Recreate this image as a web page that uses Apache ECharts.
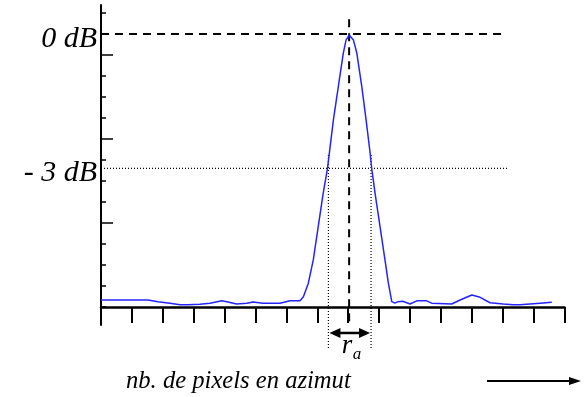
<!DOCTYPE html>
<html>
<head>
<meta charset="utf-8">
<script src="https://cdn.jsdelivr.net/npm/echarts@6/dist/echarts.min.js"></script>
<style>html,body{margin:0;padding:0;background:#fff;}#c{width:584px;height:397px;}</style>
</head>
<body>
<div id="c"></div>
<script>
// x in pixel-index units (one tick = 1), y in axis units (0 dB at 13)
const curveX = [0, 1.52, 1.84, 2.23, 2.56, 2.82, 3.2, 3.53, 3.91, 4.07, 4.39, 4.72, 4.92, 5.24, 5.79, 6.12, 6.44, 6.55, 6.71, 6.87, 7.03, 7.19, 7.33, 7.52, 7.68, 7.84, 7.93, 8.03, 8.17, 8.28, 8.44, 8.58, 8.71, 8.76, 8.87, 9.03, 9.19, 9.30, 9.41, 9.51, 9.61, 9.77, 10.0, 10.22, 10.54, 10.70, 11.35, 11.62, 12.0, 12.27, 12.59, 13.02, 13.34, 13.56, 13.88, 14.21, 14.59];
const curveY = [0.33, 0.33, 0.25, 0.18, 0.10, 0.10, 0.13, 0.18, 0.29, 0.25, 0.14, 0.18, 0.24, 0.18, 0.18, 0.29, 0.30, 0.49, 1.13, 2.24, 3.82, 5.41, 6.60, 8.90, 10.49, 12.08, 12.71, 12.95, 12.71, 12.08, 10.49, 8.90, 7.32, 6.60, 5.41, 3.82, 2.24, 1.13, 0.25, 0.18, 0.25, 0.27, 0.14, 0.29, 0.29, 0.18, 0.14, 0.33, 0.57, 0.46, 0.20, 0.14, 0.10, 0.10, 0.14, 0.18, 0.22];
const xTicks = [0,1,2,3,4,5,6,7,8,9,10,11,12,13,14,15];
const yMinorTicks = [0,1,2,3,4,5,6,7,8,9,10,11,12,13,14];
const yMajorTicks = [4, 8, 12];
const levelValues = [13, 6.6];
const levelLabels = ['0 dB', '- 3 dB'];
const peakX = 8.03;
const halfWidthX = [7.36, 8.74];
const xLabelText = 'nb. de pixels en azimut';

const FONT = "'Liberation Serif', 'DejaVu Serif', serif";
const data = curveX.map((x, i) => [x, curveY[i]]);

const chart = echarts.init(document.getElementById('c'), null, {renderer: 'canvas'});
chart.setOption({
  animation: false,
  backgroundColor: '#fff',
  grid: {left: 101, top: 5, width: 463.5, height: 320, containLabel: false},
  xAxis: {
    type: 'value', min: 0, max: 15, interval: 1,
    axisLine: {onZero: true, lineStyle: {color: '#000', width: 2.5}},
    axisTick: {show: true, inside: false, length: 16, customValues: xTicks, lineStyle: {color: '#000', width: 2}},
    axisLabel: {show: false},
    splitLine: {show: false}
  },
  yAxis: [{
    type: 'value', min: -0.86, max: 14.38,
    axisLine: {onZero: false, lineStyle: {color: '#000', width: 2}},
    axisTick: {show: true, inside: true, length: 5, customValues: yMinorTicks, lineStyle: {color: '#000', width: 1.5}},
    axisLabel: {
      show: true, customValues: levelValues, margin: 4,
      formatter: v => '{t|' + (levelLabels[levelValues.findIndex(l => Math.abs(l - v) < 1e-6)] || '') + '}',
      rich: {t: {fontFamily: FONT, fontStyle: 'italic', fontSize: 30, color: '#000', padding: [10, 0, 0, 0]}},
      fontFamily: FONT, fontStyle: 'italic', fontSize: 30, color: '#000'
    },
    splitLine: {show: false}
  }, {
    type: 'value', min: -0.86, max: 14.38, position: 'left',
    axisLine: {show: false, onZero: false},
    axisTick: {show: true, inside: true, length: 12, customValues: yMajorTicks, lineStyle: {color: '#000', width: 1.5}},
    axisLabel: {show: false},
    splitLine: {show: false}
  }],
  series: [{
    type: 'line', data: data, showSymbol: false, symbol: 'none',
    lineStyle: {color: '#2424ff', width: 1.5}, z: 3
  }, {
    type: 'custom', clip: false, z: 2, silent: true,
    data: [[peakX, levelValues[1]]],
    renderItem: function (params, api) {
      const p = (x, y) => api.coord([x, y]);
      const a0 = p(0, levelValues[0]), a1 = p(13.07, levelValues[0]);
      const b0 = p(0, levelValues[1]), b1 = p(13.17, levelValues[1]);
      const c0 = p(peakX, 13.7), c1 = p(peakX, -0.75);
      const l0 = p(halfWidthX[0], 7.24), l1 = p(halfWidthX[0], -2.0);
      const r0 = p(halfWidthX[1], 7.24), r1 = p(halfWidthX[1], -2.0);
      const ay = p(0, -1.24)[1];
      const ax0 = l0[0], ax1 = r0[0];
      const dashed = {stroke: '#000', lineWidth: 2, lineDash: [8, 6]};
      const dotted = {stroke: '#000', lineWidth: 1.2, lineDash: [1, 2]};
      const mx = (ax0 + ax1) / 2;
      return {
        type: 'group',
        children: [
          {type: 'line', shape: {x1: a0[0], y1: a0[1], x2: a1[0], y2: a1[1]}, style: dashed},
          {type: 'line', shape: {x1: b0[0], y1: b0[1], x2: b1[0], y2: b1[1]}, style: dotted},
          {type: 'line', shape: {x1: c0[0], y1: c0[1], x2: c1[0], y2: c1[1]}, style: dashed},
          {type: 'line', shape: {x1: l0[0], y1: l0[1], x2: l1[0], y2: l1[1]}, style: dotted},
          {type: 'line', shape: {x1: r0[0], y1: r0[1], x2: r1[0], y2: r1[1]}, style: dotted},
          {type: 'line', shape: {x1: ax0 + 6, y1: ay, x2: ax1 - 6, y2: ay}, style: {stroke: '#000', lineWidth: 2.5}},
          {type: 'polygon', shape: {points: [[ax0 + 1, ay], [ax0 + 12, ay - 5], [ax0 + 12, ay + 5]]}, style: {fill: '#000'}},
          {type: 'polygon', shape: {points: [[ax1 - 1, ay], [ax1 - 12, ay - 5], [ax1 - 12, ay + 5]]}, style: {fill: '#000'}},
          {type: 'text', x: mx - 8, y: ay + 13, style: {text: 'r', font: "italic 27px " + FONT, fill: '#000', align: 'left', verticalAlign: 'middle'}},
          {type: 'text', x: mx + 3, y: ay + 22, style: {text: 'a', font: "italic 17px " + FONT, fill: '#000', align: 'left', verticalAlign: 'middle'}}
        ]
      };
    }
  }],
  graphic: [
    {type: 'text', left: 126, top: 369, style: {text: xLabelText, font: "italic 24.6px " + FONT, fill: '#000'}},
    {type: 'line', shape: {x1: 487, y1: 381, x2: 572, y2: 381}, style: {stroke: '#000', lineWidth: 1.8}},
    {type: 'polygon', shape: {points: [[581, 381], [569, 377], [569, 385]]}, style: {fill: '#000'}}
  ]
});
</script>
</body>
</html>
